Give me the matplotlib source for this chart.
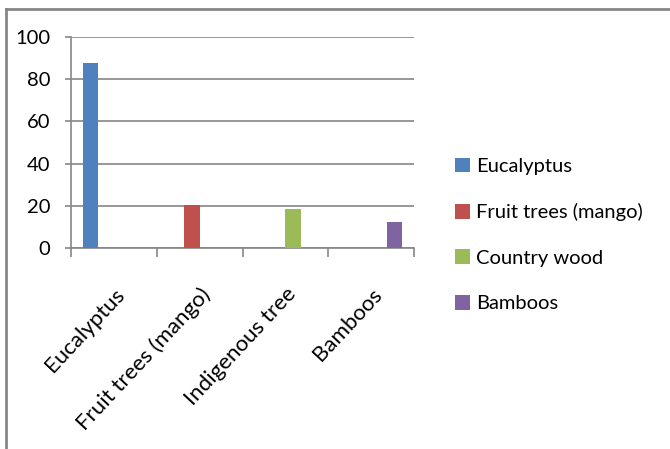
import matplotlib
matplotlib.use("Agg")
import matplotlib.pyplot as plt
from matplotlib.lines import Line2D

categories = ["Eucalyptus", "Fruit trees (mango)", "Indigenous tree", "Bamboos"]
series = ["Eucalyptus", "Fruit trees (mango)", "Country wood", "Bamboos"]
values = [87.5, 20.5, 18.6, 12.1]
colors = ["#4F81BD", "#C0504D", "#9BBB59", "#8064A2"]

plt.rcParams['font.family'] = ['Lato', 'DejaVu Sans']
GRAY = "#868686"

fig = plt.figure(figsize=(6.7, 4.49), dpi=100)
ax = fig.add_axes([71 / 670, 1 - 248 / 449, 343 / 670, 211 / 449])

# excel style cluster: 4 slots per category, gap width 150%
w = 1 / 5.5
n = len(series)
for j, (name, v, c) in enumerate(zip(series, values, colors)):
    x = j + (j - (n - 1) / 2) * w
    ax.bar(x, v, width=w, color=c, label=name, zorder=3)

ax.set_xlim(-0.5, len(categories) - 0.5)
ax.set_ylim(0, 100)
ax.set_yticks(range(0, 101, 20))
ax.yaxis.grid(True, color=GRAY, lw=1.2)
ax.set_axisbelow(True)

for s in ["top", "right"]:
    ax.spines[s].set_visible(False)
for s in ["left", "bottom"]:
    ax.spines[s].set_color(GRAY)
    ax.spines[s].set_linewidth(1.2)

ax.set_xticks(range(len(categories)))
ax.set_xticklabels(categories, rotation=47, ha="right", rotation_mode="anchor")
ax.set_xticks([i - 0.5 for i in range(len(categories) + 1)], minor=True)
ax.tick_params(axis="x", which="major", length=0, pad=26, labelsize=16)
ax.tick_params(axis="x", which="minor", length=6.5, width=1.2, color=GRAY, direction="out")
ax.tick_params(axis="y", length=4, width=1.2, color=GRAY, pad=11, labelsize=14.5)

ax.legend(loc="center left", bbox_to_anchor=(437 / 670, 1 - 235 / 449),
          bbox_transform=fig.transFigure, frameon=False, fontsize=14.5,
          handlelength=0.75, handleheight=0.75, handletextpad=0.3, labelspacing=1.4)

# outer chart border (top and left edges visible)
fig.add_artist(Line2D([6 / 670, 6 / 670], [0, 1 - 9 / 449], color=GRAY, lw=2))
fig.add_artist(Line2D([6 / 670, 1], [1 - 9 / 449, 1 - 9 / 449], color=GRAY, lw=2))

fig.savefig("out.png", dpi=100)
